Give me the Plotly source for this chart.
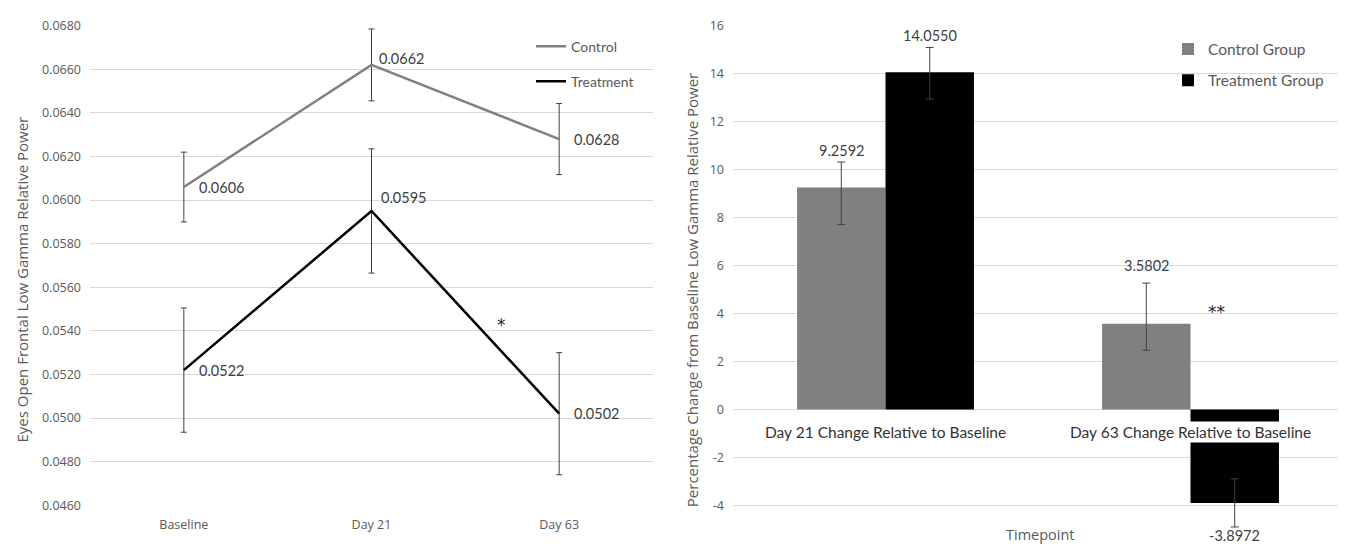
import plotly.graph_objects as go

# ---------------- data: left panel (line chart) ----------------
categories = ["Baseline", "Day 21", "Day 63"]
control_mean = [0.0606, 0.0662, 0.0628]
control_err = [0.0016, 0.00165, 0.00163]
treatment_mean = [0.0522, 0.0595, 0.0502]
treatment_err = [0.00285, 0.00285, 0.0028]
left_ticks = [0.0460, 0.0480, 0.0500, 0.0520, 0.0540, 0.0560,
              0.0580, 0.0600, 0.0620, 0.0640, 0.0660, 0.0680]

# ---------------- data: right panel (bar chart) ----------------
timepoints = ["Day 21 Change Relative to Baseline", "Day 63 Change Relative to Baseline"]
control_pct = [9.2592, 3.5802]
control_pct_err_plus = [1.06, 1.69]
control_pct_err_minus = [1.55, 1.11]
treatment_pct = [14.0550, -3.8972]
treatment_pct_err_plus = [1.04, 1.01]
treatment_pct_err_minus = [1.11, 1.00]
right_ticks = [-4, -2, 0, 2, 4, 6, 8, 10, 12, 14, 16]

# ---------------- layout helpers ----------------
OFF = 8                      # page body margin of the html page
W, H = 1346 - OFF, 552 - OFF  # figure size that fits the window


def fx(p):
    return (p - OFF) / W


def fy(p):
    return 1 - (p - OFF) / H


GRID = "#d9d9d9"
AXTXT = "#595959"
LBL = "#404040"
TICKFONT = dict(family="Open Sans", size=12.5, color=AXTXT)
LABELFONT = dict(family="Lato", size=14.5, color=LBL)
STARFONT = dict(family="DejaVu Sans", size=17, color="#262626")

fig = go.Figure()

# left panel lines
fig.add_trace(go.Scatter(
    x=categories, y=control_mean, name="Control", mode="lines",
    line=dict(color="#808080", width=2.5),
    error_y=dict(type="data", array=control_err, color=LBL, thickness=1, width=3),
    xaxis="x", yaxis="y", legend="legend", legendgroup="c1"))
fig.add_trace(go.Scatter(
    x=categories, y=treatment_mean, name="Treatment", mode="lines",
    line=dict(color="#000000", width=2.5),
    error_y=dict(type="data", array=treatment_err, color=LBL, thickness=1, width=3),
    xaxis="x", yaxis="y", legend="legend", legendgroup="t1"))

# right panel bars
fig.add_trace(go.Bar(
    x=timepoints, y=control_pct, name="Control Group", marker=dict(color="#808080", line=dict(width=0)),
    error_y=dict(type="data", symmetric=False, array=control_pct_err_plus,
                 arrayminus=control_pct_err_minus, color=LBL, thickness=1, width=4),
    xaxis="x2", yaxis="y2", legend="legend2", legendgroup="c2"))
fig.add_trace(go.Bar(
    x=timepoints, y=treatment_pct, name="Treatment Group", marker=dict(color="#000000", line=dict(width=0)),
    error_y=dict(type="data", symmetric=False, array=treatment_pct_err_plus,
                 arrayminus=treatment_pct_err_minus, color=LBL, thickness=1, width=4),
    xaxis="x2", yaxis="y2", legend="legend2", legendgroup="t2"))

annotations = []

# left data labels
ctrl_dx, ctrl_dy = [13, 5, 13], [0, 6, 0]
trt_dx, trt_dy = [13, 7, 13], [0, 13, 0]
for i, c in enumerate(categories):
    annotations.append(dict(x=c, y=control_mean[i], xref="x", yref="y", text=f"{control_mean[i]:.4f}",
                            showarrow=False, xanchor="left", yanchor="middle",
                            xshift=ctrl_dx[i], yshift=ctrl_dy[i], font=LABELFONT))
    annotations.append(dict(x=c, y=treatment_mean[i], xref="x", yref="y", text=f"{treatment_mean[i]:.4f}",
                            showarrow=False, xanchor="left", yanchor="middle",
                            xshift=trt_dx[i], yshift=trt_dy[i], font=LABELFONT))
annotations.append(dict(x="Day 21", y=0.05446, xref="x", yref="y", text="*", showarrow=False,
                        xshift=130, yshift=-4, font=STARFONT))

# right data labels
ctrl_sy = [1, 7]
for i, t in enumerate(timepoints):
    annotations.append(dict(x=t, y=control_pct[i] + control_pct_err_plus[i], xref="x2", yref="y2",
                            text=f"{control_pct[i]:.4f}", showarrow=False, xanchor="center",
                            yanchor="bottom", xshift=-44, yshift=ctrl_sy[i], font=LABELFONT))
    if treatment_pct[i] >= 0:
        annotations.append(dict(x=t, y=treatment_pct[i] + treatment_pct_err_plus[i], xref="x2", yref="y2",
                                text=f"{treatment_pct[i]:.4f}", showarrow=False, xanchor="center",
                                yanchor="bottom", xshift=44, yshift=1, font=LABELFONT))
    else:
        annotations.append(dict(x=t, y=treatment_pct[i] - treatment_pct_err_minus[i], xref="x2", yref="y2",
                                text=f"{treatment_pct[i]:.4f}", showarrow=False, xanchor="center",
                                yanchor="top", xshift=44, yshift=2, font=LABELFONT))
    # category labels with white background (as in the original)
    annotations.append(dict(x=t, y=0, xref="x2", yref="y2", text=t, showarrow=False,
                            xanchor="center", yanchor="middle", yshift=-23, bgcolor="white",
                            borderpad=1, font=dict(family="Lato", size=15.5, color="#333333")))
annotations.append(dict(x=timepoints[1], y=4.23, xref="x2", yref="y2", text="**", showarrow=False,
                        xshift=26, yshift=-4, font=STARFONT))

# axis titles
annotations.append(dict(x=fx(22), y=fy(279), xref="paper", yref="paper",
                        text="Eyes Open Frontal Low Gamma Relative Power", textangle=-90,
                        showarrow=False, xanchor="center", yanchor="middle",
                        font=dict(family="Open Sans", size=15, color=AXTXT)))
annotations.append(dict(x=fx(692), y=fy(290), xref="paper", yref="paper",
                        text="Percentage Change from Baseline Low Gamma Relative Power", textangle=-90,
                        showarrow=False, xanchor="center", yanchor="middle",
                        font=dict(family="Open Sans", size=15, color=AXTXT)))
annotations.append(dict(x=fx(1040), y=fy(542), xref="paper", yref="paper", text="Timepoint",
                        showarrow=False, xanchor="center", yanchor="middle",
                        font=dict(family="Open Sans", size=14.5, color=AXTXT)))

fig.update_layout(
    width=W, height=H, margin=dict(l=0, r=0, t=0, b=0),
    paper_bgcolor="white", plot_bgcolor="white",
    barmode="group", bargap=0.42, bargroupgap=0,
    xaxis=dict(domain=[fx(90), fx(653)], type="category", range=[-0.5, 2.5], showgrid=False,
               showline=False, zeroline=False, ticks="", tickfont=TICKFONT, ticklabelstandoff=10,
               anchor="y"),
    yaxis=dict(domain=[fy(512), fy(17)], range=[0.046, 0.068], tickvals=left_ticks,
               ticktext=[f"{v:.4f}" for v in left_ticks], showgrid=True, gridcolor=GRID, gridwidth=1,
               zeroline=False, showline=False, ticks="", tickfont=TICKFONT, ticklabelstandoff=8,
               anchor="x"),
    xaxis2=dict(domain=[fx(733), fx(1343)], type="category", range=[-0.5, 1.5], showgrid=False,
                showline=False, zeroline=False, ticks="", showticklabels=False, anchor="y2"),
    yaxis2=dict(domain=[fy(538.2), fy(17)], range=[-5.05, 16], tickvals=right_ticks,
                ticktext=[str(v) for v in right_ticks], showgrid=True, gridcolor=GRID, gridwidth=1,
                zeroline=True, zerolinecolor=GRID, zerolinewidth=1, showline=False, ticks="",
                tickfont=TICKFONT, ticklabelstandoff=8, anchor="x2"),
    legend=dict(x=fx(531), y=fy(22), xanchor="left", yanchor="top", bgcolor="rgba(0,0,0,0)",
                font=dict(family="Lato", size=14, color=AXTXT), tracegroupgap=14,
                itemclick=False),
    legend2=dict(x=fx(1168), y=fy(24), xanchor="left", yanchor="top", bgcolor="rgba(0,0,0,0)",
                 font=dict(family="Lato", size=15.5, color=AXTXT), tracegroupgap=8,
                 itemclick=False),
    annotations=annotations,
)

fig.write_html("out.html")
